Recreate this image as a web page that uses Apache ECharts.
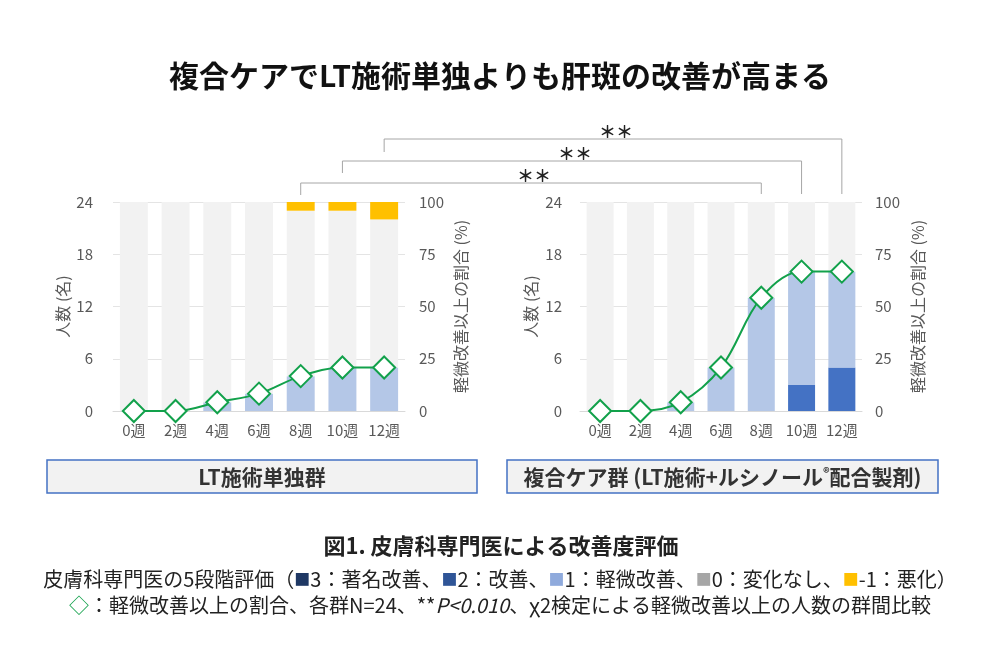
<!DOCTYPE html>
<html><head><meta charset="utf-8">
<script src="https://cdn.jsdelivr.net/npm/echarts@6/dist/echarts.min.js"></script>
<style>html,body{margin:0;padding:0;background:#fff}#c{width:1000px;height:670px}</style>
</head><body><div id="c"></div>
<script>
const categories = ['0週','2週','4週','6週','8週','10週','12週'];
const countTicks = [0, 6, 12, 18, 24];
const percentTicks = [0, 25, 50, 75, 100];
// LT施術単独群 (people per score)
const ltScore3  = [0, 0, 0, 0, 0, 0, 0];
const ltScore2  = [0, 0, 0, 0, 0, 0, 0];
const ltScore1  = [0, 0, 1, 2, 4, 5, 5];
const ltScore0  = [24, 24, 23, 22, 19, 18, 17];
const ltScoreM1 = [0, 0, 0, 0, 1, 1, 2];
const ltPercent = [0, 0, 4.2, 8.3, 16.7, 20.8, 20.8];
// 複合ケア群
const cbScore3  = [0, 0, 0, 0, 0, 0, 0];
const cbScore2  = [0, 0, 0, 0, 0, 3, 5];
const cbScore1  = [0, 0, 1, 5, 13, 13, 11];
const cbScore0  = [24, 24, 23, 19, 11, 8, 8];
const cbScoreM1 = [0, 0, 0, 0, 0, 0, 0];
const cbPercent = [0, 0, 4.2, 20.8, 54.2, 66.7, 66.7];
// significance comparisons (week in each group)
const comparisons = ['8週', '10週', '12週'];
const sigLabel = '＊＊';

const FONT = "'Noto Sans CJK JP', 'Noto Sans', sans-serif";
const colors = {s3:'#1F3864', s2:'#4472C4', s1:'#B4C7E7', s0:'#F2F2F2', m1:'#FFC000', line:'#12A14B'};
const chart = echarts.init(document.getElementById('c'));

function xAx(gi){
  return {type:'category', gridIndex:gi, data:categories,
    axisTick:{show:false}, axisLine:{lineStyle:{color:'#D9D9D9'}},
    axisLabel:{color:'#595959', fontSize:15, fontFamily:FONT, margin:12, interval:0, hideOverlap:false}};
}
function yAx(gi, pos, max, interval, name, gap, margin){
  return {type:'value', gridIndex:gi, position:pos, min:0, max:max, interval:interval,
    name:name, nameLocation:'middle', nameRotate:90, nameGap:gap,
    nameTextStyle:{color:'#595959', fontSize:16, fontFamily:FONT},
    axisLine:{show:false}, axisTick:{show:false},
    axisLabel:{color:'#595959', fontSize:15, fontFamily:FONT, margin:margin},
    splitLine:{show:pos==='left', lineStyle:{color:'#E4E4E4'}}};
}
function bars(xi, yi, arr, color){
  return {type:'bar', xAxisIndex:xi, yAxisIndex:yi, stack:'g'+xi, data:arr, barWidth:'67%',
    itemStyle:{color:color}, silent:true};
}
function line(xi, yi, arr){
  return {type:'line', xAxisIndex:xi, yAxisIndex:yi, data:arr, smooth:0.35,
    symbol:'diamond', symbolSize:22, showAllSymbol:true,
    lineStyle:{color:colors.line, width:2},
    itemStyle:{color:'#fff', borderColor:colors.line, borderWidth:2}, z:5};
}

chart.setOption({
  animation:false,
  title:{text:'複合ケアでLT施術単独よりも肝斑の改善が高まる', left:'center', top:56,
    textStyle:{fontSize:30, fontWeight:'bold', color:'#111', fontFamily:FONT}},
  grid:[
    {left:113, right:595, top:202, bottom:259},
    {left:580, right:138, top:202, bottom:259}
  ],
  xAxis:[xAx(0), xAx(1)],
  yAxis:[
    yAx(0,'left',24,6,'人数 (名)',42,20),
    yAx(0,'right',100,25,'軽微改善以上の割合 (%)',48,14),
    yAx(1,'left',24,6,'人数 (名)',41,18),
    yAx(1,'right',100,25,'軽微改善以上の割合 (%)',48,13)
  ],
  series:[
    bars(0,0,ltScore3,colors.s3), bars(0,0,ltScore2,colors.s2), bars(0,0,ltScore1,colors.s1),
    bars(0,0,ltScore0,colors.s0), bars(0,0,ltScoreM1,colors.m1),
    line(0,1,ltPercent),
    bars(1,2,cbScore3,colors.s3), bars(1,2,cbScore2,colors.s2), bars(1,2,cbScore1,colors.s1),
    bars(1,2,cbScore0,colors.s0), bars(1,2,cbScoreM1,colors.m1),
    line(1,3,cbPercent)
  ]
});

// annotations
const g = [];
const topY = chart.convertToPixel({yAxisIndex:0}, 24);
const levels = [183, 161, 139];
const leftEnds = [195, 173, 152];
comparisons.forEach((wk, i) => {
  const x1 = chart.convertToPixel({xAxisIndex:0}, wk);
  const x2 = chart.convertToPixel({xAxisIndex:1}, wk);
  const y = levels[i];
  g.push({type:'polyline', silent:true,
    shape:{points:[[x1, leftEnds[i]],[x1,y],[x2,y],[x2, topY-8]]},
    style:{stroke:'#A6A6A6', lineWidth:1, fill:null}});
  g.push({type:'text', silent:true, style:{text:sigLabel, x:(x1+x2)/2+3, y:y-7,
    align:'center', verticalAlign:'middle', fontSize:17, fontWeight:'bold', fontFamily:FONT, fill:'#222'}});
});
// group label boxes
const boxes = [
  {x:47, w:430, text:'{b|LT施術単独群}'},
  {x:507, w:431, text:'{b|複合ケア群 (LT施術+ルシノール}{sup|®}{b|配合製剤)}'}
];
boxes.forEach(b => {
  g.push({type:'rect', silent:true, shape:{x:b.x, y:460, width:b.w, height:33},
    style:{fill:'#F2F2F2', stroke:'#4472C4', lineWidth:1.5}});
  g.push({type:'text', silent:true, style:{text:b.text, x:b.x+b.w/2, y:477, align:'center', verticalAlign:'middle',
    rich:{b:{fontSize:21, fontWeight:'bold', fontFamily:FONT, fill:'#333'},
          sup:{fontSize:13, fontWeight:'bold', fontFamily:FONT, fill:'#333', verticalAlign:'top', padding:[0,0,7,0]}}}});
});
g.push({type:'text', silent:true, style:{text:'図1. 皮膚科専門医による改善度評価', x:501, y:546,
  align:'center', verticalAlign:'middle', fontSize:22, fontWeight:'bold', fontFamily:FONT, fill:'#222'}});
const t = {fontSize:20, fontFamily:FONT, fill:'#222'};
const sq = c => ({fontSize:16, fontFamily:FONT, fill:c});
g.push({type:'text', silent:true, style:{
  text:'{t|皮膚科専門医の5段階評価（}{a|■}{t|3：著名改善、}{b|■}{t|2：改善、}{c|■}{t|1：軽微改善、}{d|■}{t|0：変化なし、}{e|■}{t|-1：悪化）}',
  x:500, y:579, align:'center', verticalAlign:'middle',
  rich:{t:t, a:sq(colors.s3), b:sq('#2F5597'), c:sq('#8FAADC'), d:sq('#A6A6A6'), e:sq(colors.m1)}}});
g.push({type:'text', silent:true, style:{
  text:'{g|◇}{t|：軽微改善以上の割合、各群N=24、**}{i|P<0.010}{t|、χ2検定による軽微改善以上の人数の群間比較}',
  x:500, y:605, align:'center', verticalAlign:'middle',
  rich:{t:t, g:Object.assign({}, t, {fill:colors.line}), i:Object.assign({}, t, {fontStyle:'italic'})}}});
chart.setOption({graphic:g});
</script>
</body></html>
